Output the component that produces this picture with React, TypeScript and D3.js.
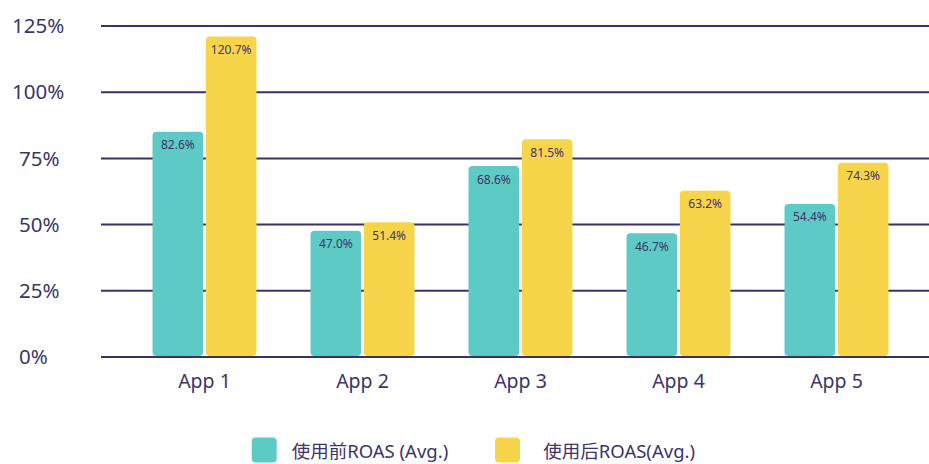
import React from "react";
import * as d3 from "d3";

const categories = ["App 1", "App 2", "App 3", "App 4", "App 5"];
const seriesNames = ["使用前ROAS (Avg.)", "使用后ROAS(Avg.)"];
const beforeValues = [85.1, 47.7, 72.1, 46.7, 57.8];
const afterValues = [121.0, 50.9, 82.2, 62.8, 73.4];
const beforeLabels = ["82.6%", "47.0%", "68.6%", "46.7%", "54.4%"];
const afterLabels = ["120.7%", "51.4%", "81.5%", "63.2%", "74.3%"];
const yTicks = [0, 25, 50, 75, 100, 125];

const W = 929;
const H = 464;
const TEAL = "#5ECAC5";
const YELLOW = "#F6D54A";
const INK = "#3D3468";
const GRID = "#3B3166";
const FONT = "'Noto Sans', 'Noto Sans CJK SC', sans-serif";

export default function App() {
  const y = d3.scaleLinear().domain([0, 125]).range([357, 26]);
  const x0 = d3.scaleBand<string>().domain(categories).range([125.5, 915.5]).paddingInner(0).paddingOuter(0);
  const groupW = 104;
  const x1 = d3.scaleBand<number>().domain([0, 1]).range([0, groupW]).paddingInner(0.05).paddingOuter(0);
  const series = [
    { values: beforeValues, labels: beforeLabels, color: TEAL },
    { values: afterValues, labels: afterLabels, color: YELLOW },
  ];

  return (
    <svg width={W} height={H} style={{ position: "absolute", left: 0, top: 0, background: "#fff" }} fontFamily={FONT}>
      {yTicks.map((t) => (
        <g key={t}>
          <line x1={101} x2={W} y1={y(t)} y2={y(t)} stroke={GRID} strokeWidth={2} />
          <text x={`${t}%`.length > 3 ? 12 : 19} y={y(t)} dy="0.35em" fontSize={20.5} fill={INK}>
            {`${t}%`}
          </text>
        </g>
      ))}
      {categories.map((c, i) => {
        const gx = (x0(c) as number) + x0.bandwidth() / 2 - groupW / 2;
        return (
          <g key={c} transform={`translate(${gx},0)`}>
            {series.map((s, si) => {
              const bx = x1(si) as number;
              const bw = x1.bandwidth();
              const top = y(s.values[i]);
              return (
                <g key={si}>
                  <rect x={bx} y={top} width={bw} height={y(0) - 1 - top} rx={4} fill={s.color} />
                  <text x={bx + bw / 2} y={top + 17.5} textAnchor="middle" fontSize={12} fill={INK}>
                    {s.labels[i]}
                  </text>
                </g>
              );
            })}
            <text x={groupW / 2} y={388} textAnchor="middle" fontSize={19.5} fill={INK}>
              {c}
            </text>
          </g>
        );
      })}
      {seriesNames.map((n, i) => {
        const lx = i === 0 ? 251.7 : 495;
        return (
          <g key={n}>
            <rect x={lx} y={437.5} width={25} height={25} rx={4} fill={series[i].color} />
            <text x={lx + (i === 0 ? 40 : 48.3)} y={457.5} fontSize={18.5} fill={INK}>
              {n}
            </text>
          </g>
        );
      })}
    </svg>
  );
}
